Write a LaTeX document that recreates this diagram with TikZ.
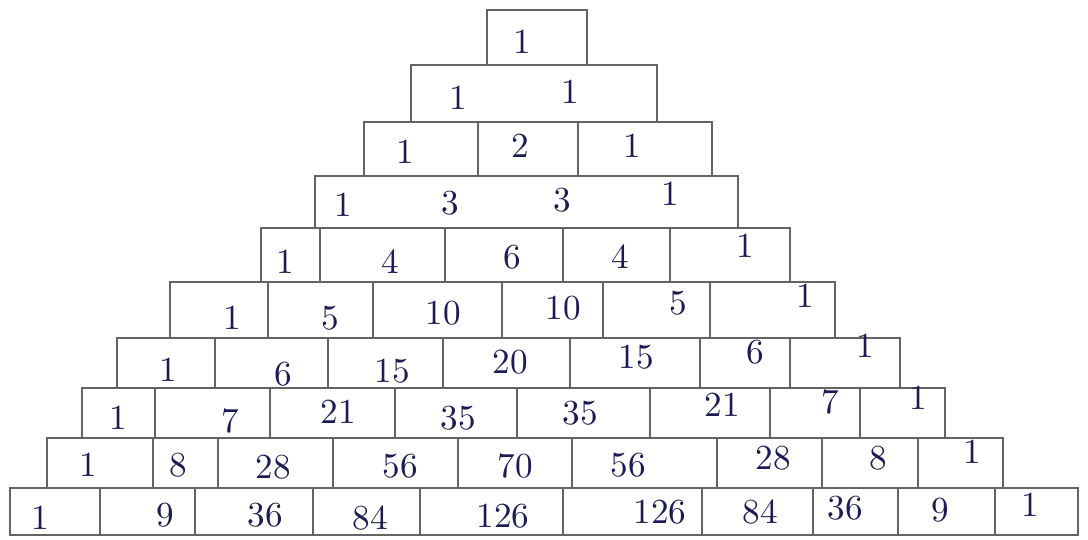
\documentclass[tikz,border=0pt]{standalone}
\usepackage{amsmath, amssymb}
\usepackage{tikz}

\definecolor{pencil}{RGB}{100,100,100}
\definecolor{ink}{RGB}{28,28,85}

\begin{document}
\begin{tikzpicture}[x=0.01cm, y=-0.01cm,
        brick/.style={draw=pencil, line width=0.7pt},
        num/.style={text=ink, font=\normalsize}]
        \useasboundingbox (0,0) rectangle (1088,539);

            % Row 0
            \draw[brick] (487,10) rectangle (587,65);
            \node[num] (r0c0) at (522,42) {1};

            % Row 1
            \draw[brick] (411,65) rectangle (657,122);
            \node[num] (r1c0) at (458,98) {1};
            \node[num] (r1c1) at (570,92) {1};

            % Row 2
            \draw[brick] (364,122) rectangle (712,176);
            \foreach \x in {478,578} \draw[brick] (\x,122) -- (\x,176);
            \node[num] (r2c0) at (405,152) {1};
            \node[num] (r2c1) at (520,146) {2};
            \node[num] (r2c2) at (632,146) {1};

            % Row 3
            \draw[brick] (315,176) rectangle (738,228);
            \node[num] (r3c0) at (343,205) {1};
            \node[num] (r3c1) at (450,203) {3};
            \node[num] (r3c2) at (562,200) {3};
            \node[num] (r3c3) at (670,194) {1};

            % Row 4
            \draw[brick] (261,228) rectangle (790,282);
            \foreach \x in {320,445,563,670} \draw[brick] (\x,228) -- (\x,282);
            \node[num] (r4c0) at (285,262) {1};
            \node[num] (r4c1) at (390,262) {4};
            \node[num] (r4c2) at (512,257) {6};
            \node[num] (r4c3) at (620,257) {4};
            \node[num] (r4c4) at (745,246) {1};

            % Row 5
            \draw[brick] (170,282) rectangle (835,338);
            \foreach \x in {268,373,502,603,710} \draw[brick] (\x,282) -- (\x,338);
            \node[num] (r5c0) at (232,318) {1};
            \node[num] (r5c1) at (330,318) {5};
            \node[num] (r5c2) at (443,313) {10};
            \node[num] (r5c3) at (563,308) {10};
            \node[num] (r5c4) at (678,303) {5};
            \node[num] (r5c5) at (805,296) {1};

            % Row 6
            \draw[brick] (117,338) rectangle (900,388);
            \foreach \x in {215,328,443,570,700,790} \draw[brick] (\x,338) -- (\x,388);
            \node[num] (r6c0) at (168,370) {1};
            \node[num] (r6c1) at (283,374) {6};
            \node[num] (r6c2) at (392,371) {15};
            \node[num] (r6c3) at (510,362) {20};
            \node[num] (r6c4) at (636,357) {15};
            \node[num] (r6c5) at (755,352) {6};
            \node[num] (r6c6) at (865,346) {1};

            % Row 7
            \draw[brick] (82,388) rectangle (945,438);
            \foreach \x in {155,270,395,517,650,770,860} \draw[brick] (\x,388) -- (\x,438);
            \node[num] (r7c0) at (118,418) {1};
            \node[num] (r7c1) at (230,421) {7};
            \node[num] (r7c2) at (338,412) {21};
            \node[num] (r7c3) at (458,418) {35};
            \node[num] (r7c4) at (580,413) {35};
            \node[num] (r7c5) at (722,405) {21};
            \node[num] (r7c6) at (830,402) {7};
            \node[num] (r7c7) at (918,398) {1};

            % Row 8
            \draw[brick] (47,438) rectangle (1003,488);
            \foreach \x in {153,218,333,458,572,717,822,918} \draw[brick] (\x,438) -- (\x,488);
            \node[num] (r8c0) at (88,465) {1};
            \node[num] (r8c1) at (178,465) {8};
            \node[num] (r8c2) at (273,467) {28};
            \node[num] (r8c3) at (400,466) {56};
            \node[num] (r8c4) at (515,466) {70};
            \node[num] (r8c5) at (628,465) {56};
            \node[num] (r8c6) at (773,458) {28};
            \node[num] (r8c7) at (878,458) {8};
            \node[num] (r8c8) at (972,452) {1};

            % Row 9
            \draw[brick] (10,488) rectangle (1078,535);
            \foreach \x in {100,195,313,420,563,702,813,898,995} \draw[brick] (\x,488) -- (\x,535);
            \node[num] (r9c0) at (40,518) {1};
            \node[num] (r9c1) at (165,515) {9};
            \node[num] (r9c2) at (265,515) {36};
            \node[num] (r9c3) at (370,518) {84};
            \node[num] (r9c4) at (503,516) {126};
            \node[num] (r9c5) at (660,512) {126};
            \node[num] (r9c6) at (760,512) {84};
            \node[num] (r9c7) at (845,508) {36};
            \node[num] (r9c8) at (940,510) {9};
            \node[num] (r9c9) at (1030,505) {1};
    \end{tikzpicture}
\end{document}
